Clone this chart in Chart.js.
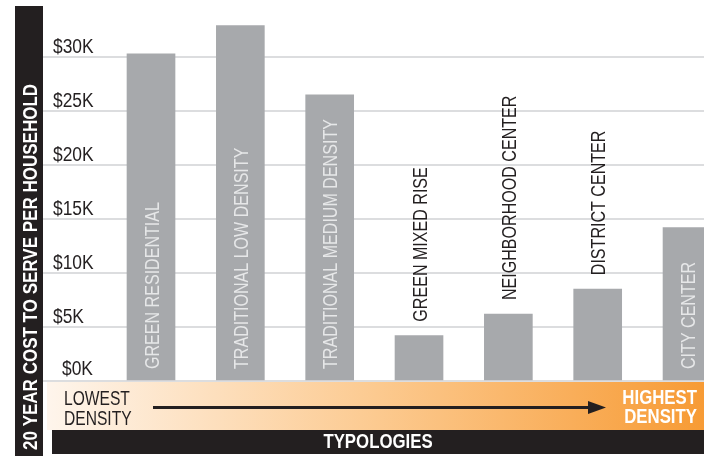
<!DOCTYPE html>
<html>
<head>
<meta charset="utf-8">
<script src="https://cdn.jsdelivr.net/npm/chart.js@4.4.1/dist/chart.umd.min.js"></script>
<style>
  html, body { margin: 0; padding: 0; background: #fff; }
  canvas { display: block; }
</style>
</head>
<body>
<canvas id="chart" width="704" height="456"></canvas>
<script>
// typologies, lowest to highest density
var typologies = ['GREEN RESIDENTIAL', 'TRADITIONAL LOW DENSITY', 'TRADITIONAL MEDIUM DENSITY',
  'GREEN MIXED RISE', 'NEIGHBORHOOD CENTER', 'DISTRICT CENTER', 'CITY CENTER'];
// 20 year cost to serve per household, thousands of dollars
var costK = [30.3, 32.9, 26.5, 4.2, 6.2, 8.5, 14.2];
var tickValues = [0, 5, 10, 15, 20, 25, 30];

var SANS = '"Liberation Sans", Arial, sans-serif';
var INK = '#231f20';

// no condensed face installed, so squeeze the text horizontally
function say(ctx, s, x, y, o) {
  ctx.save();
  ctx.translate(x, y);
  if (o.up) ctx.rotate(-Math.PI / 2);
  ctx.scale(o.k, 1);
  ctx.font = o.font;
  ctx.fillStyle = o.color;
  ctx.textAlign = o.align || 'left';
  ctx.textBaseline = 'alphabetic';
  ctx.fillText(s, 0, o.dy || 0);
  ctx.restore();
}

var extras = {
  id: 'extras',
  afterDatasetsDraw: function(chart) {
    var ctx = chart.ctx;
    var meta = chart.getDatasetMeta(0);
    var y = chart.scales.y;
    var barFont = '21px ' + SANS;
    var k = 0.765;

    // bar names, inside the bar when they fit
    ctx.save();
    ctx.font = barFont;
    for (var i = 0; i < meta.data.length; i++) {
      var bar = meta.data[i];
      var w = ctx.measureText(typologies[i]).width * k;
      var inside = w + 26 < bar.base - bar.y;
      say(ctx, typologies[i], bar.x, inside ? bar.base - 11 : bar.y - 14, {
        up: true, k: k, font: barFont, dy: 7.5,
        color: inside ? '#e6e7e8' : INK
      });
    }
    ctx.restore();

    // y tick labels sit just above their grid lines ($0K is set in a bit in the original)
    y.ticks.forEach(function(t) {
      var zero = t.value === 0;
      say(ctx, '$' + t.value + 'K', chart.chartArea.left + (zero ? 19 : 10),
        y.getPixelForValue(t.value) - (zero ? 6 : 4),
        { k: 0.87, font: '20px ' + SANS, color: INK });
    });
  },
  afterDraw: function(chart) {
    var ctx = chart.ctx;
    var a = chart.chartArea;
    var W = chart.width;
    var bold = 'bold 20px ' + SANS;
    ctx.save();

    // left title band
    ctx.fillStyle = INK;
    ctx.fillRect(15, 6, 28, chart.height - 6);
    say(ctx, '20 YEAR COST TO SERVE PER HOUSEHOLD', 29, 450,
      { up: true, k: 0.81, font: 'bold 21px ' + SANS, color: '#fff', dy: 7.5 });

    // density band
    var top = a.bottom + 1;
    var g = ctx.createLinearGradient(47, 0, W, 0);
    g.addColorStop(0, '#fef5ec');
    g.addColorStop(0.5, '#fcca90');
    g.addColorStop(1, '#f79b35');
    ctx.fillStyle = g;
    ctx.fillRect(47, top, W - 47, 430 - top);

    say(ctx, 'LOWEST', 64, 405, { k: 0.78, font: '20px ' + SANS, color: INK });
    say(ctx, 'DENSITY', 64, 425, { k: 0.78, font: '20px ' + SANS, color: INK });

    // arrow
    ctx.strokeStyle = INK;
    ctx.fillStyle = INK;
    ctx.lineWidth = 3;
    ctx.beginPath();
    ctx.moveTo(153, 407.5);
    ctx.lineTo(592, 407.5);
    ctx.stroke();
    ctx.beginPath();
    ctx.moveTo(606, 407.5);
    ctx.lineTo(588, 401);
    ctx.lineTo(588, 414);
    ctx.closePath();
    ctx.fill();

    say(ctx, 'HIGHEST', 697, 404, { k: 0.84, font: bold, color: '#fff', align: 'right' });
    say(ctx, 'DENSITY', 697, 423, { k: 0.84, font: bold, color: '#fff', align: 'right' });

    // bottom band
    ctx.fillStyle = INK;
    ctx.fillRect(52, 430, W - 52, 24);
    say(ctx, 'TYPOLOGIES', (52 + W) / 2, 448, { k: 0.84, font: bold, color: '#fff', align: 'center' });
    ctx.restore();
  }
};

new Chart(document.getElementById('chart'), {
  type: 'bar',
  data: {
    datasets: [{
      data: costK.map(function(v, i) { return {x: i, y: v}; }),
      backgroundColor: '#a7a9ac',
      borderWidth: 0,
      barThickness: 48
    }]
  },
  options: {
    responsive: false,
    animation: false,
    layout: { padding: { left: 43, right: 0, top: 3, bottom: 75 } },
    plugins: { legend: { display: false }, tooltip: { enabled: false } },
    scales: {
      x: {
        type: 'linear',
        display: false,
        offset: false,
        min: -1.209,
        max: 6.19
      },
      y: {
        min: 0,
        max: 35,
        afterBuildTicks: function(s) {
          s.ticks = tickValues.map(function(v) { return {value: v}; });
        },
        border: { display: false },
        grid: { color: '#dcdddf', lineWidth: 2, drawTicks: false },
        ticks: { display: false }
      }
    }
  },
  plugins: [extras]
});
</script>
</body>
</html>
